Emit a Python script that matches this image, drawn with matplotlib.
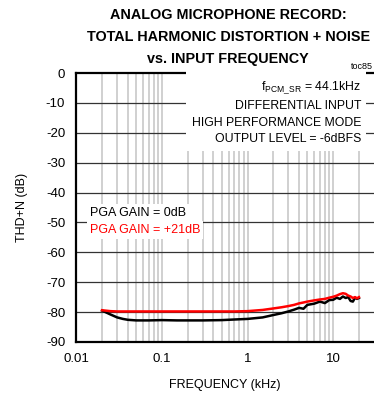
import matplotlib
matplotlib.use("Agg")
import matplotlib.pyplot as plt
from matplotlib.ticker import FixedLocator, NullLocator

plt.rcParams['font.family'] = ['Liberation Sans', 'DejaVu Sans']
plt.rcParams['mathtext.fontset'] = 'custom'
plt.rcParams['mathtext.rm'] = 'Liberation Sans'
plt.rcParams['axes.unicode_minus'] = False

# data (frequency in kHz, THD+N in dB)
freq = [0.02, 0.025, 0.03, 0.035, 0.04, 0.05, 0.07, 0.1, 0.15, 0.2, 0.3, 0.5, 0.7,
        1.0, 1.5, 2.0, 2.5, 3.0, 3.5, 4.0, 4.5, 5.0, 6.0, 7.0, 8.0, 9.0, 10.0,
        11.0, 12.0, 13.0, 14.0, 15.0, 16.0, 17.0, 18.0, 19.0, 20.0]
thd_0db = [-79.5, -80.8, -81.8, -82.3, -82.6, -82.8, -82.8, -82.7, -82.8, -82.8, -82.8, -82.7, -82.5,
           -82.3, -81.8, -81.0, -80.4, -79.8, -79.2, -78.6, -78.9, -77.6, -77.2, -76.5, -77.0, -76.0, -75.9,
           -75.2, -75.6, -74.8, -75.3, -75.0, -76.3, -76.5, -75.2, -75.6, -75.3]
thd_21db = [-79.4, -79.7, -79.8, -79.8, -79.8, -79.8, -79.8, -79.8, -79.8, -79.8, -79.8, -79.8, -79.8,
            -79.7, -79.3, -78.8, -78.4, -78.0, -77.6, -77.1, -76.8, -76.5, -76.1, -75.8, -75.6, -75.2, -74.9,
            -74.5, -74.0, -73.7, -73.9, -74.5, -74.8, -75.3, -75.0, -75.4, -75.0]

y_ticks = [0, -10, -20, -30, -40, -50, -60, -70, -80, -90]
x_ticks = [0.01, 0.1, 1, 10]
x_tick_labels = ["0.01", "0.1", "1", "10"]
v_grid = [m * d for d in (0.01, 0.1, 1) for m in range(2, 11)] + [20]
title_lines = ["ANALOG MICROPHONE RECORD:", "TOTAL HARMONIC DISTORTION + NOISE", "vs. INPUT FREQUENCY"]

fig = plt.figure(figsize=(3.74, 3.93), dpi=100)
ax = fig.add_axes([0.204, 0.130, 0.796, 0.684])
ax.set_xscale('log')
ax.set_xlim(0.01, 30)
ax.set_ylim(-90, 0)

for f in v_grid:
    ax.axvline(f, color='#c8c8c8', lw=1.2, zorder=1)
for y in y_ticks[1:-1]:
    ax.axhline(y, color='#333333', lw=0.9, zorder=1)

ax.plot(freq, thd_0db, color='black', lw=1.8, zorder=4)
ax.plot(freq, thd_21db, color='#ff0000', lw=1.8, zorder=5)

ax.xaxis.set_major_locator(FixedLocator(x_ticks))
ax.xaxis.set_minor_locator(NullLocator())
ax.set_xticklabels(x_tick_labels)
ax.set_yticks(y_ticks)
ax.tick_params(length=0, labelsize=9.5, pad=8)
ax.set_xlabel("FREQUENCY (kHz)", fontsize=9, labelpad=10)
ax.set_ylabel("THD+N (dB)", fontsize=9, labelpad=13)

for side in ('left', 'bottom', 'top'):
    ax.spines[side].set_linewidth(1.6)
ax.spines['right'].set_visible(False)

ax.text(0.956, 0.978,
        "f$_{\\mathregular{PCM\\_SR}}$ = 44.1kHz\nDIFFERENTIAL INPUT\nHIGH PERFORMANCE MODE\nOUTPUT LEVEL = -6dBFS",
        transform=ax.transAxes, ha='right', va='top', multialignment='right',
        fontsize=8.8, linespacing=1.5, zorder=6,
        bbox=dict(facecolor='white', edgecolor='none', pad=4))

ax.text(0.045, 0.48, "PGA GAIN = 0dB", transform=ax.transAxes, ha='left', va='center',
        fontsize=9, color='black', zorder=6,
        bbox=dict(facecolor='white', edgecolor='none', pad=2))
ax.text(0.045, 0.416, "PGA GAIN = +21dB", transform=ax.transAxes, ha='left', va='center',
        fontsize=9, color='#ff0000', zorder=6,
        bbox=dict(facecolor='white', edgecolor='none', pad=2))

ax.text(0.995, 1.008, "toc85", transform=ax.transAxes, ha='right', va='bottom', fontsize=6.5)

# title, one line at a time (~22 px apart)
for i, line in enumerate(title_lines):
    fig.text(0.61, 0.962 - i * 0.0565, line, ha='center', va='center',
             fontsize=10.4, fontweight='bold')

fig.savefig("out.png", dpi=100)
